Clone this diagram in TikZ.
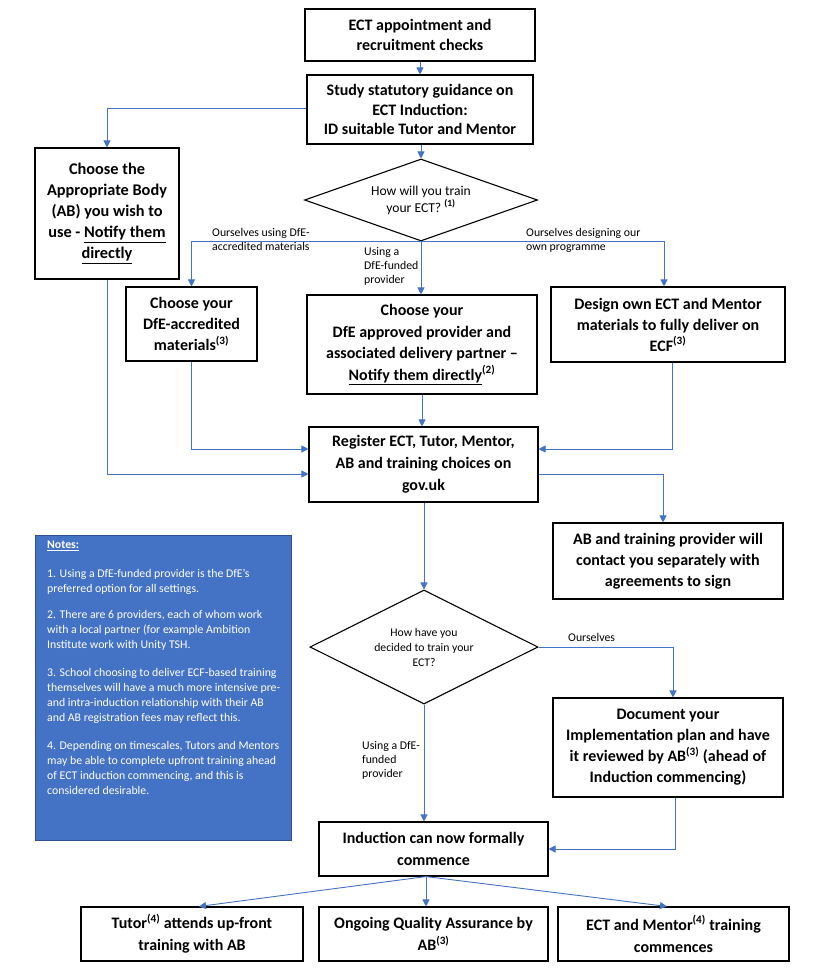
\documentclass[tikz,border=0pt]{standalone}
\usepackage{fontspec}
\setmainfont{Carlito}
\usetikzlibrary{shapes.geometric,arrows.meta,calc}
\definecolor{ablue}{HTML}{4472C4}
\definecolor{nborder}{HTML}{2F528F}
\begin{document}
\begin{tikzpicture}[x=1pt,y=-1pt,
  box/.style={draw=black,line width=1.1pt,rectangle,inner sep=0pt,align=center,font=\fontsize{16}{20.5}\selectfont\bfseries,text=black},
  dia/.style={draw=black,line width=1.1pt,diamond,inner sep=0pt,align=center,text=black},
  arr/.style={draw=ablue,line width=0.9pt,-{Triangle[length=7pt,width=7pt]}},
  lbl/.style={inner sep=0pt,align=left,anchor=north west,font=\fontsize{11.8}{14.3}\selectfont,text=black}]
\useasboundingbox[fill=white] (0,0) rectangle (830,975);

% boxes
\node[box,minimum width=230pt,minimum height=52pt] (b1) at (420,35) {ECT appointment and\\recruitment checks};
\node[box,minimum width=226pt,minimum height=69pt,font=\fontsize{16}{19.5}\selectfont\bfseries] (b2) at (420,109.5) {Study statutory guidance on\\ECT Induction:\\ID suitable Tutor and Mentor};
\node[box,minimum width=144pt,minimum height=131pt,font=\fontsize{16.3}{21}\selectfont\bfseries] (ab) at (107,213.5) {Choose the\\Appropriate Body\\(AB) you wish to\\use - \underline{Notify them}\\\underline{directly}};
\node[dia,aspect=2.84,minimum width=233pt,minimum height=82pt,font=\fontsize{13.6}{17}\selectfont] (d1) at (421,200) {How will you train\\your ECT? \textsuperscript{\textbf{(1)}}};
\node[box,minimum width=131pt,minimum height=74pt,font=\fontsize{16}{21}\selectfont\bfseries] (lbox) at (191.5,324) {Choose your\\DfE-accredited\\materials\textsuperscript{(3)}};
\node[box,minimum width=230pt,minimum height=99pt,font=\fontsize{16}{21.5}\selectfont\bfseries] (mbox) at (422,344.5) {Choose your\\DfE approved provider and\\associated delivery partner –\\\underline{Notify them directly}\textsuperscript{(2)}};
\node[box,minimum width=234pt,minimum height=75pt,font=\fontsize{16}{21}\selectfont\bfseries] (rbox) at (668,324.5) {Design own ECT and Mentor\\materials to fully deliver on\\ECF\textsuperscript{(3)}};
\node[box,minimum width=229pt,minimum height=75pt,font=\fontsize{16}{22}\selectfont\bfseries] (reg) at (423.5,464.5) {Register ECT, Tutor, Mentor,\\AB and training choices on\\gov.uk};
\node[box,minimum width=230pt,minimum height=76pt,font=\fontsize{16}{21}\selectfont\bfseries] (abt) at (668,561) {AB and training provider will\\contact you separately with\\agreements to sign};
\node[dia,aspect=2.0,minimum width=228pt,minimum height=114pt,font=\fontsize{11.7}{15}\selectfont] (d2) at (424,647) {How have you\\decided to train your\\ECT?};
\node[box,minimum width=230pt,minimum height=99pt,font=\fontsize{16}{21}\selectfont\bfseries] (doc) at (668,747.5) {Document your\\Implementation plan and have\\it reviewed by AB\textsuperscript{(3)} (ahead of\\Induction commencing)};
\node[box,minimum width=229pt,minimum height=54pt,font=\fontsize{16}{22}\selectfont\bfseries] (ind) at (433.5,849) {Induction can now formally\\commence};
\node[box,minimum width=222pt,minimum height=54pt,font=\fontsize{16}{22}\selectfont\bfseries] (t1) at (192,934) {Tutor\textsuperscript{(4)} attends up-front\\training with AB};
\node[box,minimum width=229pt,minimum height=54pt,font=\fontsize{16}{22}\selectfont\bfseries] (t2) at (433.5,934) {Ongoing Quality Assurance by\\AB\textsuperscript{(3)}};
\node[box,minimum width=231pt,minimum height=54pt,font=\fontsize{16}{22}\selectfont\bfseries] (t3) at (673.5,934) {ECT and Mentor\textsuperscript{(4)} training\\commences};

% notes
\node[draw=nborder,fill=ablue,line width=1pt,minimum width=256pt,minimum height=305pt,anchor=north west,inner sep=0pt] (notes) at (35,535) {};
\node[anchor=north west,inner sep=0pt,text=white,align=left,font=\fontsize{11.8}{15}\selectfont] (notestext) at (47,541) {\underline{\textbf{Notes:}}\\[14pt]
1. Using a DfE-funded provider is the DfE’s\\
preferred option for all settings.\\[11pt]
2. There are 6 providers, each of whom work\\
with a local partner (for example Ambition\\
Institute work with Unity TSH.\\[13pt]
3. School choosing to deliver ECF-based training\\
themselves will have a much more intensive pre-\\
and intra-induction relationship with their AB\\
and AB registration fees may reflect this.\\[13pt]
4. Depending on timescales, Tutors and Mentors\\
may be able to complete upfront training ahead\\
of ECT induction commencing, and this is\\
considered desirable.};

% labels
\node[lbl] (l1) at (212,228) {Ourselves using DfE-\\accredited materials};
\node[lbl] (l2) at (364,247) {Using a\\DfE-funded\\provider};
\node[lbl] (l3) at (526,228) {Ourselves designing our\\own programme};
\node[lbl] (l4) at (568,633) {Ourselves};
\node[lbl] (l5) at (362,741) {Using a DfE-\\funded\\provider};

% connectors
\draw[arr] (b1.south) -- (b2.north);
\draw[arr] ([yshift=1.5pt]b2.west) -| (ab.north);
\draw[arr] (d1.north |- b2.south) -- (d1.north);
\draw[arr] (d1.south) -| (lbox.north);
\draw[arr] (d1.south) -| ([xshift=-4pt]rbox.north);
\draw[arr] (d1.south) -- (d1.south |- mbox.north);
\draw[arr] (lbox.south) |- ([yshift=15.5pt]reg.west);
\draw[arr] (ab.south) |- ([yshift=-9.5pt]reg.west);
\draw[arr] (mbox.south) -- (mbox.south |- reg.north);
\draw[arr] ([xshift=4pt]rbox.south) |- ([yshift=15.5pt]reg.east);
\draw[arr] ([yshift=-9.5pt]reg.east) -| ([xshift=-5pt]abt.north);
\draw[arr] (d2.north |- reg.south) -- (d2.north);
\draw[arr] (d2.east) -| ([xshift=5pt]doc.north);
\draw[arr] (d2.south) -- (d2.south |- ind.north);
\draw[arr] ([xshift=7pt]doc.south) |- (ind.east);
\coordinate (indb) at ([xshift=-7.5pt]ind.south);
\draw[arr] (indb) -- ([xshift=7pt]t1.north);
\draw[arr] (indb) -- ([xshift=-7.5pt]t2.north);
\draw[arr] (indb) -- ([xshift=-6.5pt]t3.north);
\end{tikzpicture}
\end{document}
